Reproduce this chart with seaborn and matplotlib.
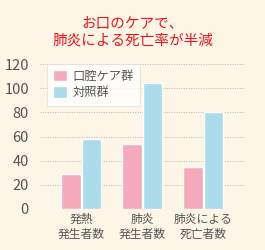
import matplotlib
matplotlib.use("Agg")
import matplotlib.pyplot as plt
import seaborn as sns
import pandas as pd

categories = ["発熱\n発生者数", "肺炎\n発生者数", "肺炎による\n死亡者数"]
series_names = ["口腔ケア群", "対照群"]
care_values = [29, 54, 35]
control_values = [58, 104, 80]
yticks = [0, 20, 40, 60, 80, 100, 120]

df = pd.DataFrame({
    "cat": categories * 2,
    "group": [series_names[0]] * 3 + [series_names[1]] * 3,
    "val": care_values + control_values,
})

sns.set_style("white")
plt.rcParams['font.family'] = ['Noto Sans CJK JP', 'DejaVu Sans']

bg = "#FDF6E6"
fig = plt.figure(figsize=(2.65, 2.5), dpi=100, facecolor=bg)
ax = fig.add_axes([0.151, 0.164, 0.774, 0.58])
ax.set_facecolor(bg)

sns.barplot(data=df, x="cat", y="val", hue="group", ax=ax,
            palette=["#F4AABB", "#AADCEB"], width=0.68, gap=0.05,
            saturation=1, legend=True)

ax.set_ylim(0, 120)
ax.set_xlim(-0.672, 2.689)
ax.set_yticks(yticks)
ax.yaxis.grid(True, linestyle=(0, (1, 1.5)), color="#B8B8B8", linewidth=0.7)
ax.set_axisbelow(True)
for s in ax.spines.values():
    s.set_visible(False)
ax.tick_params(axis="both", length=0)
ax.tick_params(axis="y", labelsize=10.5, labelcolor="#555555", pad=8)
ax.tick_params(axis="x", labelsize=8.5, labelcolor="#555555", pad=3)
ax.set_xlabel("")
ax.set_ylabel("")

leg = ax.legend(loc="upper left", bbox_to_anchor=(0.005, 1.045), fontsize=8.8,
                frameon=True, fancybox=False, handlelength=1.1, handleheight=1.1,
                handletextpad=0.5, borderpad=0.5, labelspacing=0.3)
leg.get_frame().set_edgecolor("#DDDDDD")
leg.get_frame().set_facecolor("white")
leg.get_frame().set_linewidth(0.6)
for t in leg.get_texts():
    t.set_color("#555555")

fig.text(0.5, 0.872, "お口のケアで、\n肺炎による死亡率が半減", ha="center", va="center",
         color="#E8141E", fontsize=10.5, linespacing=1.25)

fig.savefig("out.png", dpi=100, facecolor=bg)
